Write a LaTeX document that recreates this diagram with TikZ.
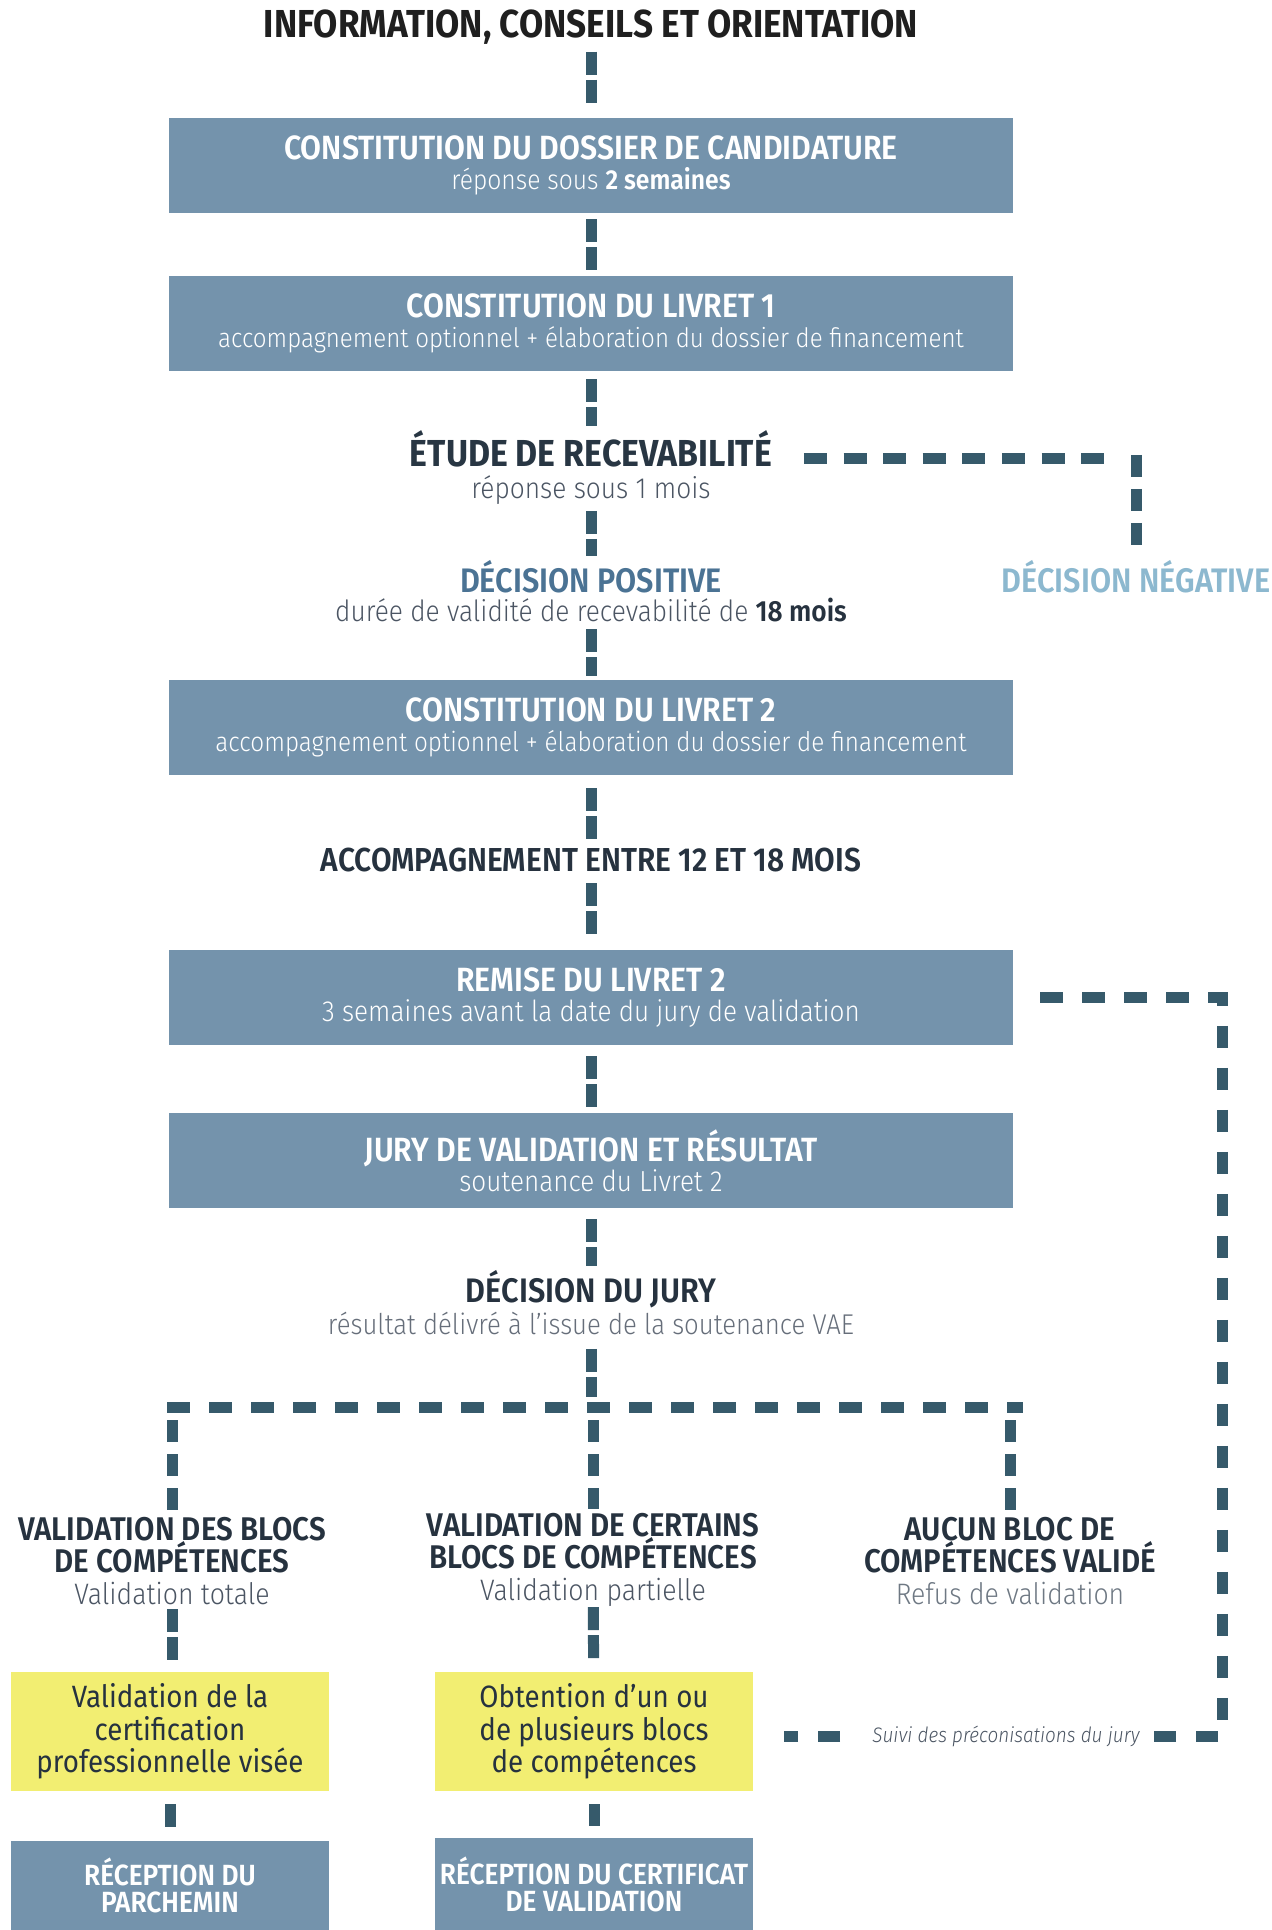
\documentclass[tikz,border=0pt]{standalone}
\usepackage{fontspec}
\setmainfont{Fira Sans}[UprightFont=* Light,BoldFont=* SemiBold,ItalicFont=* Light Italic,FakeStretch=0.9]
\newfontfamily\heavyfont{Fira Sans}[UprightFont=* Bold,FakeStretch=0.9]
\newfontfamily\bookfont{Fira Sans}[FakeStretch=0.9]
\usetikzlibrary{positioning}
\definecolor{boxblue}{HTML}{7493AC}
\definecolor{dashteal}{HTML}{365A6B}
\definecolor{inkblue}{HTML}{26323F}
\definecolor{posblue}{HTML}{4B7394}
\definecolor{negblue}{HTML}{8CB8CF}
\definecolor{lemon}{HTML}{F2EE72}
\definecolor{greytext}{HTML}{4B5563}
\definecolor{palegrey}{HTML}{6E7883}
\newcommand{\boxhead}[1]{{\bfseries\fontsize{16.8}{15}\selectfont #1}}
\newcommand{\outsub}[2]{{\mdseries\fontsize{14.8}{16}\selectfont\color{#1}#2}}
\tikzset{
  stepbox/.style={fill=boxblue,text=white,minimum width=422pt,minimum height=47.5pt,inner sep=0pt,align=center,font=\fontsize{14.5}{15}\selectfont},
  notebox/.style={fill=lemon,text=inkblue,minimum width=159pt,minimum height=59.5pt,inner sep=0pt,align=center,font=\bookfont\fontsize{15.4}{16.25}\selectfont},
  endbox/.style={fill=boxblue,text=white,minimum width=159pt,inner sep=0pt,align=center,font=\bfseries\fontsize{14.6}{13.5}\selectfont},
  headline/.style={text=inkblue,inner sep=0pt,align=center,font=\bfseries\fontsize{17}{16}\selectfont},
  outcome/.style={headline,font=\bfseries\fontsize{16.4}{16}\selectfont},
  subline/.style={text=greytext,inner sep=0pt,font=\fontsize{14.6}{15}\selectfont},
  link/.style={draw=dashteal,line width=5.5pt,dash pattern=on 11.5pt off 2.5pt on 11.5pt off 60pt,shorten <=4pt,shorten >=2pt},
  branch/.style={draw=dashteal,line width=5.5pt,dash pattern=on 11.25pt off 9.75pt},
  drop/.style={draw=dashteal,line width=5.5pt,dash pattern=on 11pt off 6pt,shorten <=6.5pt,shorten >=2pt}
}
\begin{document}
\begin{tikzpicture}[x=0.5pt,y=-0.5pt]
\useasboundingbox (0,0) rectangle (1271,1930);
\node[inner sep=0pt,text=black!88,font=\heavyfont\fontsize{19.5}{20}\selectfont] (info) at (591,27) {INFORMATION, CONSEILS ET ORIENTATION};
\node[stepbox] (dossier) at (591,165.5) {\boxhead{CONSTITUTION DU DOSSIER DE CANDIDATURE}\\\fontsize{13.7}{15}\selectfont réponse sous \textbf{2 semaines}};
\node[stepbox] (livret1) at (591,323.5) {\boxhead{CONSTITUTION DU LIVRET 1}\\\fontsize{13.4}{15}\selectfont accompagnement optionnel + élaboration du dossier de financement};
\node[headline,text=inkblue!90!dashteal,font=\heavyfont\fontsize{18.8}{18}\selectfont] (recev) at (591,449) {ÉTUDE DE RECEVABILITÉ};
\node[subline] (recev-sub) at (591,490) {réponse sous 1 mois};
\node[headline,text=posblue] (positive) at (591,577) {DÉCISION POSITIVE};
\node[subline] (positive-sub) at (591,610) {durée de validité de recevabilité de \textcolor{inkblue}{\textbf{18 mois}}};
\node[headline,text=negblue] (negative) at (1136,577) {DÉCISION NÉGATIVE};
\node[stepbox] (livret2) at (591,727.5) {\boxhead{CONSTITUTION DU LIVRET 2}\\\fontsize{13.5}{15}\selectfont accompagnement optionnel + élaboration du dossier de financement};
\node[headline,font=\bfseries\fontsize{16.6}{16}\selectfont] (accomp) at (591,860) {ACCOMPAGNEMENT ENTRE 12 ET 18 MOIS};
\node[stepbox] (remise) at (591,997.5) {\boxhead{REMISE DU LIVRET 2}\\3 semaines avant la date du jury de validation};
\node[stepbox] (jury) at (591,1160.5) {\boxhead{JURY DE VALIDATION ET RÉSULTAT}\\soutenance du Livret 2};
\node[headline] (decjury) at (591,1289) {DÉCISION DU JURY};
\node[subline,text=greytext!85,font=\fontsize{14.3}{15}\selectfont] (decjury-sub) at (591,1323) {résultat délivré à l’issue de la soutenance VAE};
\coordinate (neg-turn) at (1136,459);
\coordinate (split-l) at (167,1407);
\coordinate (split-r) at (1023,1407);
\node[outcome] (totale) at (172,1561) {VALIDATION DES BLOCS\\DE COMPÉTENCES\\\outsub{greytext}{Validation totale}};
\node[outcome] (partielle) at (593,1560) {VALIDATION DE CERTAINS\\BLOCS DE COMPÉTENCES\\\outsub{greytext}{Validation partielle}};
\node[outcome] (aucun) at (1010,1561) {AUCUN BLOC DE\\COMPÉTENCES VALIDÉ\\\outsub{palegrey}{Refus de validation}};
\node[notebox] (parchemin-note) at (170,1731.5) {Validation de la\\certification\\professionnelle visée};
\node[notebox] (blocs-note) at (594,1731.5) {Obtention d’un ou\\de plusieurs blocs\\de compétences};
\node[endbox,minimum height=44.5pt] (parchemin) at (170,1885.5) {RÉCEPTION DU\\PARCHEMIN};
\node[endbox,minimum height=46pt] (certificat) at (594,1884) {RÉCEPTION DU CERTIFICAT\\DE VALIDATION};
\coordinate (bend) at (1222,1736);
\draw[link,shorten <=3.5pt] (info) -- (dossier);
\draw[link,shorten <=3pt] (dossier) -- (livret1);
\draw[link] (livret1) -- (recev);
\draw[link,shorten <=3pt] (recev-sub) -- (positive);
\draw[link,shorten <=3.5pt] (positive-sub) -- (livret2);
\draw[link,shorten <=6.5pt] (livret2) -- (accomp);
\draw[link,shorten <=5.5pt] (accomp) -- (remise);
\draw[link,shorten <=5.5pt] (remise) -- (jury);
\draw[link,shorten <=5.5pt] (jury) -- (decjury);
\draw[link,shorten <=7pt,shorten >=5pt] (decjury-sub) -- (decjury-sub |- split-l);
\draw[branch,dash pattern=on 11.5pt off 8.3pt,shorten <=15.75pt,shorten >=8.5pt] (recev.east |- neg-turn) -- (neg-turn);
\draw[drop,shorten <=-2pt] (neg-turn) -- (negative);
\draw[branch] (split-l) -- (split-r);
\draw[drop] (totale.north |- split-l) -- (totale);
\draw[drop] (partielle.north |- split-l) -- (partielle);
\draw[drop] (aucun.north |- split-l) -- (aucun);
\draw[link,shorten <=2pt] (totale) -- (totale |- parchemin-note.north);
\draw[link,shorten <=0pt] (partielle) -- (blocs-note);
\draw[link,shorten <=6.5pt,shorten >=6pt] (parchemin-note) -- (parchemin);
\draw[link,shorten <=6.5pt,shorten >=6pt] (blocs-note) -- (certificat);
\draw[branch,shorten <=13.5pt,shorten >=15.5pt] (remise.east) -| (bend) -- (blocs-note.east |- bend);
\node[fill=white,inner xsep=6pt,inner ysep=2pt,text=greytext,font=\itshape\fontsize{10.5}{12}\selectfont] (suivi) at (1006,1736) {Suivi des préconisations du jury};
\end{tikzpicture}
\end{document}
